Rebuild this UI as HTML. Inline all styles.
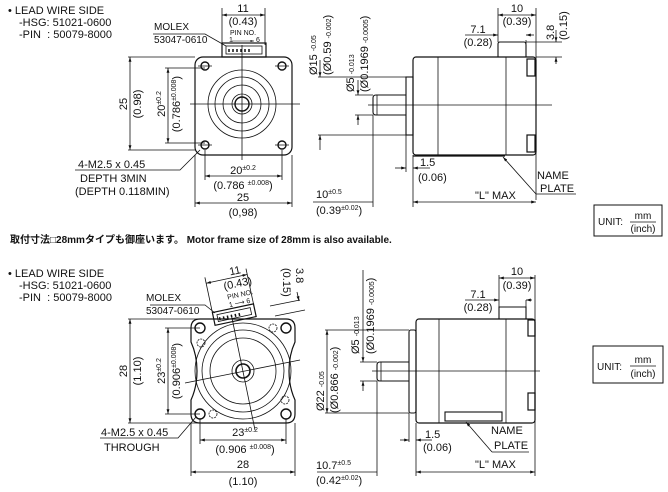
<!DOCTYPE html>
<html><head><meta charset="utf-8"><style>
body{margin:0;background:#fff}
svg{display:block}
text{font-family:"Liberation Sans","Noto Sans CJK JP",sans-serif;fill:#111;font-size:11px}
.s{font-size:7px}
.m{font-size:10px}
</style></head><body>
<svg width="668" height="492" viewBox="0 0 668 492" xmlns="http://www.w3.org/2000/svg">
<defs>
<marker id="a" viewBox="0 0 10 10" refX="10" refY="5" markerWidth="6" markerHeight="6" orient="auto-start-reverse"><path d="M0,2 L10,5 L0,8z" fill="#111"/></marker>
</defs>
<g stroke="#111" fill="none" stroke-width="0.8">
<!-- ===== TOP FRONT VIEW ===== -->
<rect x="195" y="57" width="97" height="98" rx="8" stroke-width="1.2"/>
<circle cx="242" cy="104" r="34"/><circle cx="242" cy="104" r="27"/><circle cx="242" cy="104" r="19"/>
<circle cx="242" cy="104" r="10"/><circle cx="242" cy="104" r="7" stroke-width="1.4"/>
<circle cx="205" cy="66" r="4" stroke-width="1.4"/><circle cx="282" cy="66" r="4" stroke-width="1.4"/>
<circle cx="205" cy="145" r="4" stroke-width="1.4"/><circle cx="282" cy="145" r="4" stroke-width="1.4"/>
<path d="M198 66H212M275 66H289M198 145H212M275 145H289"/>
<rect x="222" y="43" width="44" height="14" stroke-width="1.2"/>
<rect x="226" y="46" width="36" height="8"/>
<path d="M229 52v-3M233 52v-3M237 52v-3M241 52v-3M245 52v-3M249 52v-3" stroke-width="1.5"/>
<path d="M242 45V160M190 104H300"/>
<path d="M222 8V45M265 8V45"/>
<line x1="222" y1="15" x2="265" y2="15" marker-start="url(#a)" marker-end="url(#a)"/>
<line x1="232" y1="41" x2="254" y2="41" marker-end="url(#a)" stroke-width="0.6"/>
<path d="M153 34H205L226 46"/>
<path d="M128 57H195M128 150H195"/>
<line x1="130" y1="57" x2="130" y2="150" marker-start="url(#a)" marker-end="url(#a)"/>
<path d="M165 68H205M165 143H205"/>
<line x1="168" y1="68" x2="168" y2="143" marker-start="url(#a)" marker-end="url(#a)"/>
<path d="M75 170H180L200 150"/>
<path d="M205 150V180M282 150V180M195 155V207M292 155V207"/>
<line x1="205" y1="176" x2="282" y2="176" marker-start="url(#a)" marker-end="url(#a)"/>
<line x1="195" y1="203" x2="292" y2="203" marker-start="url(#a)" marker-end="url(#a)"/>
<!-- ===== TOP SIDE VIEW ===== -->
<rect x="413" y="57" width="123" height="98" rx="3" stroke-width="1.2"/>
<path d="M438 57V155M506 57V155"/>
<rect x="406" y="77" width="7" height="58" stroke-width="1.1"/>
<path d="M406 95H376Q373 95 373 98V112Q373 115 376 115H406" stroke-width="1.1"/>
<path d="M377 95V115"/>
<path d="M498 57V44Q498 42 500 42H524Q526 42 526 45V57" stroke-width="1.1"/>
<rect x="527" y="59" width="8" height="17" stroke-width="1.2"/><rect x="527" y="135" width="8" height="17" stroke-width="1.2"/>
<path d="M413 156H505" stroke-width="1.3"/>
<path d="M368 105H552"/>
<path d="M318 77H406M318 135H406"/>
<line x1="320" y1="60" x2="320" y2="77" marker-end="url(#a)"/>
<line x1="320" y1="150" x2="320" y2="135" marker-end="url(#a)"/>
<path d="M355 95H373M355 115H373"/>
<line x1="358" y1="80" x2="358" y2="95" marker-end="url(#a)"/>
<line x1="358" y1="125" x2="358" y2="115" marker-end="url(#a)"/>
<path d="M498 8V42M536 8V200M526 40V57M526 42H562M536 57H562"/>
<line x1="498" y1="15" x2="536" y2="15" marker-start="url(#a)" marker-end="url(#a)"/>
<line x1="465" y1="35" x2="498" y2="35" marker-end="url(#a)"/>
<line x1="534" y1="35" x2="526" y2="35" marker-end="url(#a)"/>
<line x1="556" y1="30" x2="556" y2="42" marker-end="url(#a)"/>
<line x1="556" y1="64" x2="556" y2="57" marker-end="url(#a)"/>
<path d="M406 135V172M413 155V207M373 115V207"/>
<line x1="395" y1="168" x2="406" y2="168" marker-end="url(#a)"/>
<line x1="430" y1="168" x2="413" y2="168" marker-end="url(#a)"/>
<path d="M313 202H373"/>
<line x1="413" y1="202" x2="536" y2="202" marker-start="url(#a)" marker-end="url(#a)"/>
<path d="M576 194H536"/><line x1="536" y1="194" x2="503" y2="157" marker-end="url(#a)"/>
<rect x="594" y="205" width="68" height="31" stroke-width="1"/>
<path d="M630 222H656"/>
<!-- ===== BOTTOM FRONT VIEW ===== -->
<path d="M200 319H286Q295 319 295 328V342Q289 355 289 371Q289 387 295 400V414Q295 423 286 423H200Q191 423 191 414V400Q197 387 197 371Q197 355 191 342V328Q191 319 200 319Z" stroke-width="1.2"/>
<circle cx="243" cy="371" r="48"/><circle cx="243" cy="371" r="41"/><circle cx="243" cy="371" r="33"/>
<circle cx="243" cy="371" r="11"/><circle cx="243" cy="371" r="7" stroke-width="1.6"/>
<circle cx="200" cy="328" r="5" stroke-width="1.4"/><circle cx="286" cy="328" r="5" stroke-width="1.4"/>
<circle cx="200" cy="414" r="5" stroke-width="1.4"/><circle cx="286" cy="414" r="5" stroke-width="1.4"/>
<circle cx="201" cy="343" r="4" stroke-dasharray="2 1"/><circle cx="273" cy="328" r="4" stroke-dasharray="2 1"/>
<circle cx="213" cy="414" r="4" stroke-dasharray="2 1"/><circle cx="285" cy="400" r="4" stroke-dasharray="2 1"/>
<g transform="rotate(-12 235 318)">
<rect x="214" y="308" width="42" height="13" stroke-width="1.2"/>
<rect x="218" y="311" width="34" height="7"/>
<path d="M220 317v-3M224 317v-3M228 317v-3M232 317v-3M236 317v-3M240 317v-3" stroke-width="1.5"/>
<path d="M214 308V272M256 308V272"/>
<line x1="214" y1="278" x2="256" y2="278" marker-start="url(#a)" marker-end="url(#a)"/>
</g>
<path d="M232 318L255 430M185 383L300 360"/>
<path d="M150 305H205L215 313"/>
<path d="M270 306L300 300M275 316L305 310"/>
<line x1="297" y1="292" x2="299" y2="301" marker-end="url(#a)"/>
<path d="M128 319H200M128 423H200"/>
<line x1="130" y1="319" x2="130" y2="423" marker-start="url(#a)" marker-end="url(#a)"/>
<path d="M165 328H200M165 414H200"/>
<line x1="168" y1="328" x2="168" y2="414" marker-start="url(#a)" marker-end="url(#a)"/>
<path d="M100 438H178L196 417"/>
<path d="M200 419V444M286 419V444M191 423V476M295 423V476"/>
<line x1="200" y1="440" x2="286" y2="440" marker-start="url(#a)" marker-end="url(#a)"/>
<line x1="191" y1="472" x2="295" y2="472" marker-start="url(#a)" marker-end="url(#a)"/>
<!-- ===== BOTTOM SIDE VIEW ===== -->
<rect x="416" y="319" width="119" height="104" rx="3" stroke-width="1.2"/>
<path d="M439 319V423M506 319V423"/>
<rect x="409" y="330" width="7" height="83" rx="2" stroke-width="1.1"/>
<path d="M409 362H380Q377 362 377 365V378Q377 381 380 381H409" stroke-width="1.1"/>
<path d="M381 362V381"/>
<path d="M499 319V307H526V319" stroke-width="1.1"/>
<rect x="528" y="320" width="7" height="16" stroke-width="1.2"/><rect x="528" y="393" width="7" height="17" stroke-width="1.2"/>
<rect x="445" y="412" width="57" height="9" stroke-width="1.1"/>
<path d="M372 371H540"/>
<path d="M325 330H409M325 413H409"/>
<line x1="327" y1="330" x2="327" y2="413" marker-start="url(#a)" marker-end="url(#a)"/>
<path d="M360 362H377M360 381H377"/>
<line x1="363" y1="270" x2="363" y2="362" marker-end="url(#a)"/>
<line x1="363" y1="391" x2="363" y2="381" marker-end="url(#a)"/>
<path d="M499 275V307M535 275V476"/>
<line x1="499" y1="278" x2="535" y2="278" marker-start="url(#a)" marker-end="url(#a)"/>
<line x1="465" y1="300" x2="499" y2="300" marker-end="url(#a)"/>
<line x1="532" y1="300" x2="526" y2="300" marker-end="url(#a)"/>
<path d="M526 300V307M409 413V442M416 423V476M377 381V476"/>
<line x1="400" y1="440" x2="409" y2="440" marker-end="url(#a)"/>
<line x1="432" y1="440" x2="416" y2="440" marker-end="url(#a)"/>
<path d="M317 472H377"/>
<line x1="416" y1="472" x2="535" y2="472" marker-start="url(#a)" marker-end="url(#a)"/>
<path d="M529 452H492"/><line x1="492" y1="452" x2="466" y2="422" marker-end="url(#a)"/>
<rect x="593" y="346" width="70" height="37" stroke-width="1"/>
<path d="M630 366H656"/>
</g>

<!-- ===== TEXT TOP ===== -->
<text x="8" y="14">• LEAD WIRE SIDE</text>
<text x="19" y="26">-HSG: 51021-0600</text>
<text x="19" y="38">-PIN &#160;: 50079-8000</text>
<text x="154" y="30" class="m">MOLEX</text>
<text x="154" y="43" class="m">53047-0610</text>
<text x="243" y="12" text-anchor="middle">11</text>
<text x="243" y="25" text-anchor="middle">(0.43)</text>
<text x="243" y="35" text-anchor="middle" class="s">PIN NO.</text>
<text x="229" y="42" class="s">1</text><text x="256" y="42" class="s">6</text>
<text transform="translate(127,104) rotate(-90)" text-anchor="middle">25</text>
<text transform="translate(141,104) rotate(-90)" text-anchor="middle">(0.98)</text>
<text transform="translate(165,104) rotate(-90)" text-anchor="middle">20<tspan class="s" dy="-4">±0.2</tspan></text>
<text transform="translate(180,104) rotate(-90)" text-anchor="middle">(0.786<tspan class="s" dy="-4">±0.008</tspan><tspan dy="4">)</tspan></text>
<text x="78" y="168">4-M2.5 x 0.45</text>
<text x="80" y="182">DEPTH 3MIN</text>
<text x="75" y="195">(DEPTH 0.118MIN)</text>
<text x="243" y="174" text-anchor="middle">20<tspan class="s" dy="-4">±0.2</tspan></text>
<text x="243" y="189" text-anchor="middle">(0.786 <tspan class="s" dy="-4">±0.008</tspan><tspan dy="4">)</tspan></text>
<text x="243" y="201" text-anchor="middle">25</text>
<text x="243" y="216" text-anchor="middle">(0,98)</text>
<text transform="translate(317,75) rotate(-90)">Ø15 <tspan class="s" dy="-1">-0.05</tspan></text>
<text transform="translate(331,75) rotate(-90)">(Ø0.59 <tspan class="s">-0.002</tspan>)</text>
<text transform="translate(354,92) rotate(-90)">Ø5 <tspan class="s">-0.013</tspan></text>
<text transform="translate(368,92) rotate(-90)">(Ø0.1969 <tspan class="s">-0.0005</tspan>)</text>
<text x="517" y="12" text-anchor="middle">10</text>
<text x="517" y="25" text-anchor="middle">(0.39)</text>
<text x="478" y="33" text-anchor="middle">7.1</text>
<text x="478" y="46" text-anchor="middle">(0.28)</text>
<text transform="translate(554,40) rotate(-90)">3.8</text>
<text transform="translate(567,40) rotate(-90)">(0.15)</text>
<text x="420" y="166">1.5</text>
<text x="418" y="181">(0.06)</text>
<text x="537" y="179">NAME</text>
<text x="540" y="192">PLATE</text>
<text x="316" y="198">10<tspan class="s" dy="-4">±0.5</tspan></text>
<text x="316" y="214">(0.39<tspan class="s" dy="-4">±0.02</tspan><tspan dy="4">)</tspan></text>
<text x="475" y="199">"L" MAX</text>
<text x="598" y="225" class="m">UNIT:</text>
<text x="643" y="219" text-anchor="middle" class="m">mm</text>
<text x="643" y="232" text-anchor="middle" class="m">(inch)</text>
<text x="10" y="243" style="font-size:10px;font-weight:bold">取付寸法□28mmタイプも御座います。 Motor frame size of 28mm is also available.</text>

<!-- ===== TEXT BOTTOM ===== -->
<text x="8" y="277">• LEAD WIRE SIDE</text>
<text x="19" y="289">-HSG: 51021-0600</text>
<text x="19" y="301">-PIN &#160;: 50079-8000</text>
<text x="146" y="301" class="m">MOLEX</text>
<text x="146" y="314" class="m">53047-0610</text>
<g transform="rotate(-12 238 285)">
<text x="238" y="274" text-anchor="middle">11</text>
<text x="238" y="287" text-anchor="middle">(0.43)</text>
<text x="238" y="297" text-anchor="middle" class="s">PIN NO.</text>
<text x="225" y="305" class="s">1 ⟶ 6</text>
</g>
<text transform="translate(296,268) rotate(90)">3.8</text>
<text transform="translate(283,268) rotate(90)">(0.15)</text>
<text transform="translate(127,371) rotate(-90)" text-anchor="middle">28</text>
<text transform="translate(141,371) rotate(-90)" text-anchor="middle">(1.10)</text>
<text transform="translate(165,371) rotate(-90)" text-anchor="middle">23<tspan class="s" dy="-4">±0.2</tspan></text>
<text transform="translate(180,371) rotate(-90)" text-anchor="middle">(0.906<tspan class="s" dy="-4">±0.008</tspan><tspan dy="4">)</tspan></text>
<text x="101" y="436">4-M2.5 x 0.45</text>
<text x="104" y="451">THROUGH</text>
<text x="245" y="436" text-anchor="middle">23<tspan class="s" dy="-4">±0.2</tspan></text>
<text x="245" y="453" text-anchor="middle">(0.906 <tspan class="s" dy="-4">±0.008</tspan><tspan dy="4">)</tspan></text>
<text x="243" y="468" text-anchor="middle">28</text>
<text x="243" y="485" text-anchor="middle">(1.10)</text>
<text transform="translate(324,411) rotate(-90)">Ø22 <tspan class="s">-0.05</tspan></text>
<text transform="translate(338,413) rotate(-90)">(Ø0.866 <tspan class="s">-0.002</tspan>)</text>
<text transform="translate(359,354) rotate(-90)">Ø5 <tspan class="s">-0.013</tspan></text>
<text transform="translate(374,354) rotate(-90)">(Ø0.1969 <tspan class="s">-0.0005</tspan>)</text>
<text x="517" y="275" text-anchor="middle">10</text>
<text x="517" y="289" text-anchor="middle">(0.39)</text>
<text x="478" y="298" text-anchor="middle">7.1</text>
<text x="478" y="311" text-anchor="middle">(0.28)</text>
<text x="425" y="438">1.5</text>
<text x="423" y="451">(0.06)</text>
<text x="491" y="434">NAME</text>
<text x="494" y="449">PLATE</text>
<text x="316" y="469">10.7<tspan class="s" dy="-4">±0.5</tspan></text>
<text x="316" y="484">(0.42<tspan class="s" dy="-4">±0.02</tspan><tspan dy="4">)</tspan></text>
<text x="475" y="468">"L" MAX</text>
<text x="597" y="370" class="m">UNIT:</text>
<text x="643" y="363" text-anchor="middle" class="m">mm</text>
<text x="643" y="377" text-anchor="middle" class="m">(inch)</text>
</svg>
</body></html>
